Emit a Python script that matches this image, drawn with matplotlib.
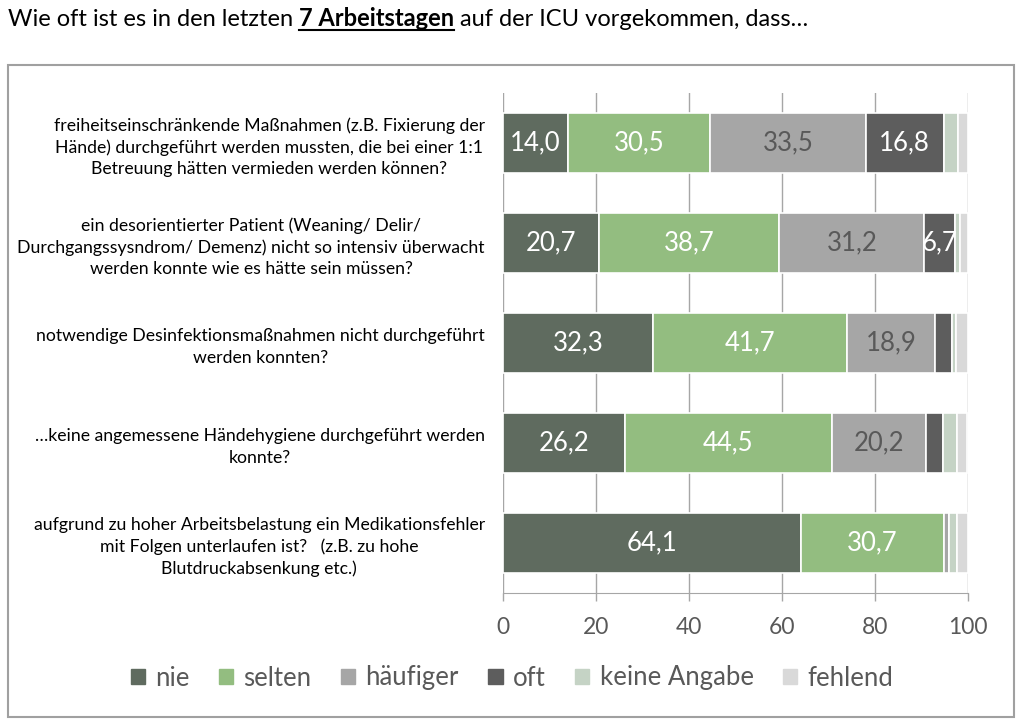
import matplotlib
matplotlib.use("Agg")
import matplotlib.pyplot as plt
from matplotlib.patches import Rectangle
from matplotlib.lines import Line2D
import numpy as np

plt.rcParams["font.family"] = ["Lato", "DejaVu Sans"]

# Data
questions = [
    "freiheitseinschränkende Maßnahmen (z.B. Fixierung der\nHände) durchgeführt werden mussten, die bei einer 1:1\nBetreuung hätten vermieden werden können?",
    "ein desorientierter Patient (Weaning/ Delir/\nDurchgangssysndrom/ Demenz) nicht so intensiv überwacht\nwerden konnte wie es hätte sein müssen?",
    "notwendige Desinfektionsmaßnahmen nicht durchgeführt\nwerden konnten?",
    "…keine angemessene Händehygiene durchgeführt werden\nkonnte?",
    "aufgrund zu hoher Arbeitsbelastung ein Medikationsfehler\nmit Folgen unterlaufen ist?   (z.B. zu hohe\nBlutdruckabsenkung etc.)",
]
series_names = ["nie", "selten", "häufiger", "oft", "keine Angabe", "fehlend"]
nie = [14.0, 20.7, 32.3, 26.2, 64.1]
selten = [30.5, 38.7, 41.7, 44.5, 30.7]
haeufiger = [33.5, 31.2, 18.9, 20.2, 1.1]
oft = [16.8, 6.7, 3.7, 3.8, 0.0]
keine_angabe = [3.0, 0.9, 0.8, 3.0, 1.8]
fehlend = [2.2, 1.8, 2.6, 2.1, 2.3]

colors = ["#5f6b5f", "#93bd80", "#a6a6a6", "#5d5d5d", "#c5d3c5", "#d9d9d9"]
label_colors = ["white", "white", "#595959", "white", None, None]

fig = plt.figure(figsize=(10.24, 7.27), dpi=100)
ax = fig.add_axes([503 / 1024, 1 - 593 / 727, 465 / 1024, 500 / 727])

y = np.arange(len(questions))
left = np.zeros(len(questions))
all_series = [nie, selten, haeufiger, oft, keine_angabe, fehlend]
for name, vals, col, lcol in zip(series_names, all_series, colors, label_colors):
    vals = np.array(vals)
    ax.barh(y, vals, left=left, height=0.6, color=col, edgecolor="white",
            linewidth=1.2, label=name, zorder=3)
    if lcol is not None:
        for yi, (l, v) in enumerate(zip(left, vals)):
            if v >= 5:
                ax.text(l + v / 2, yi, f"{v:.1f}".replace(".", ","), ha="center",
                        va="center", color=lcol, fontsize=18.5, zorder=4)
    left += vals

ax.set_xlim(0, 100)
ax.set_ylim(len(questions) - 0.5, -0.5)
ax.set_xticks([0, 20, 40, 60, 80, 100])
ax.set_yticks(y)
ax.set_yticklabels(questions, fontsize=12.7, multialignment="center", linespacing=1.4)
ax.tick_params(axis="y", length=0, pad=13)
ax.tick_params(axis="x", length=6, width=1, color="#a6a6a6", labelsize=16.5,
               labelcolor="#595959", pad=11)
ax.grid(axis="x", color="#a6a6a6", linewidth=1, zorder=0)
for s in ["top", "right", "left"]:
    ax.spines[s].set_visible(False)
ax.spines["bottom"].set_color("#a6a6a6")

handles = [Rectangle((0, 0), 1, 1, color=c) for c in colors]
fig.legend(handles, series_names, loc="center", bbox_to_anchor=(0.5, 1 - 678 / 727),
           ncol=6, frameon=False, fontsize=18.5, handlelength=0.55, handleheight=0.55,
           handletextpad=0.4, columnspacing=1.15, labelcolor="#595959")

# Border box
fig.patches.append(Rectangle((8 / 1024, 1 - 717 / 727), 1006 / 1024, 652 / 727,
                             transform=fig.transFigure, fill=False,
                             edgecolor="#a0a0a0", linewidth=1.5))

# Title with bold underlined part
renderer = fig.canvas.get_renderer()
ty = 1 - 26 / 727
tsize = 17
t1 = fig.text(8 / 1024, ty, "Wie oft ist es in den letzten", fontsize=tsize, va="baseline")
space = fig.text(0, 0, "a a", fontsize=tsize)
w_aa = space.get_window_extent(renderer).width
space.set_text("aa")
sp = w_aa - space.get_window_extent(renderer).width
space.remove()
x = t1.get_window_extent(renderer).x1 + sp
t2 = fig.text(x / 1024, ty, "7 Arbeitstagen", fontsize=tsize, fontweight="bold", va="baseline")
bb = t2.get_window_extent(renderer)
fig.add_artist(Line2D([bb.x0 / 1024, bb.x1 / 1024], [ty - 4 / 727, ty - 4 / 727],
                      transform=fig.transFigure, color="black", linewidth=1.5))
fig.text((bb.x1 + sp) / 1024, ty, "auf der ICU vorgekommen, dass…", fontsize=tsize, va="baseline")

fig.savefig("out.png", dpi=100)
